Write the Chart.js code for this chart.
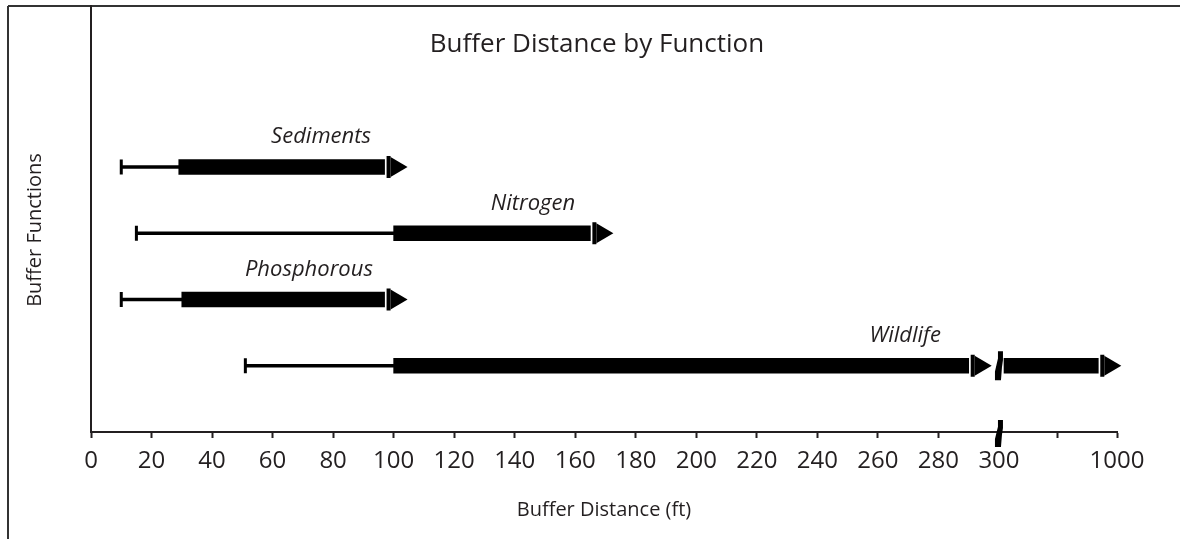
<!DOCTYPE html>
<html><head><meta charset="utf-8">
<script src="https://cdn.jsdelivr.net/npm/chart.js@4.4.1/dist/chart.umd.min.js"></script>
<style>html,body{margin:0;padding:0;background:#fff;}canvas{display:block;}</style>
</head><body>
<canvas id="c" width="1180" height="539"></canvas>
<script>
// ---- data (feet) ----
const categories = ['Sediments', 'Nitrogen', 'Phosphorous', 'Wildlife'];
const minDistance = [10, 15, 10, 51];
const typicalStart = [29, 100, 30, 100];
const typicalEnd = [97, 165, 97, 290];
const extendedStart = [null, null, null, 330];
const extendedEnd = [null, null, null, 889];
const labelAt = [76, 146, 72, 269];
const breakAt = 300;
const axisMax = 1000;
const xTickValues = [0, 20, 40, 60, 80, 100, 120, 140, 160, 180, 200, 220, 240, 260, 280, 300, 650, 1000];
const xTickLabels = ['0', '20', '40', '60', '80', '100', '120', '140', '160', '180', '200', '220', '240', '260', '280', '300', '', '1000'];
const titleText = 'Buffer Distance by Function';
const xTitle = 'Buffer Distance (ft)';
const yTitle = 'Buffer Functions';

// broken axis: 0-300 linear, 300-1000 compressed
const toAxis = v => v <= breakAt ? v : breakAt + (v - breakAt) * 39 / 700;

const INK = '#231f20';
const FONT = "'Open Sans', sans-serif";

const thinData = categories.map((c, i) => ({ x: [toAxis(minDistance[i]), toAxis(typicalStart[i])], y: i + 1 }));
const thickData = categories.map((c, i) => ({ x: [toAxis(typicalStart[i]), toAxis(typicalEnd[i])], y: i + 1 }));
categories.forEach((c, i) => {
  if (extendedStart[i] != null) thickData.push({ x: [toAxis(extendedStart[i]), toAxis(extendedEnd[i])], y: i + 1 });
});

function drawArrow(ctx, x, y) {
  ctx.fillRect(x + 2, y - 11, 4, 22);
  ctx.beginPath();
  ctx.moveTo(x + 6, y - 10);
  ctx.lineTo(x + 23, y);
  ctx.lineTo(x + 6, y + 10);
  ctx.closePath();
  ctx.fill();
}
function drawBreak(ctx, cx, cy, h) {
  const t = cy - h / 2, b = cy + h / 2;
  ctx.beginPath();
  ctx.moveTo(cx - 1, t);
  ctx.lineTo(cx + 4, t);
  ctx.lineTo(cx + 4, t + h * 0.3);
  ctx.lineTo(cx + 3, t + h * 0.55);
  ctx.lineTo(cx + 2, b);
  ctx.lineTo(cx - 4, b);
  ctx.lineTo(cx - 4, b - h * 0.3);
  ctx.lineTo(cx - 2, t + h * 0.4);
  ctx.lineTo(cx - 1, t + h * 0.25);
  ctx.closePath();
  ctx.fill();
}

const decor = {
  id: 'decor',
  beforeDraw(chart) {
    const ctx = chart.ctx;
    ctx.save();
    ctx.fillStyle = '#fff';
    ctx.fillRect(0, 0, chart.width, chart.height);
    ctx.strokeStyle = '#333';
    ctx.lineWidth = 2;
    ctx.beginPath();
    ctx.moveTo(8, 6); ctx.lineTo(chart.width, 6);
    ctx.moveTo(8, 6); ctx.lineTo(8, chart.height);
    ctx.stroke();
    ctx.restore();
  },
  afterDraw(chart) {
    const ctx = chart.ctx;
    const xs = chart.scales.x, ys = chart.scales.y;
    ctx.save();
    ctx.fillStyle = '#000';
    categories.forEach((c, i) => {
      const y = ys.getPixelForValue(i + 1);
      const wx = xs.getPixelForValue(toAxis(minDistance[i]));
      ctx.fillRect(wx - 1.5, y - 7.5, 3, 15);
      drawArrow(ctx, xs.getPixelForValue(toAxis(typicalEnd[i])), y);
      if (extendedEnd[i] != null) {
        drawArrow(ctx, xs.getPixelForValue(toAxis(extendedEnd[i])), y);
        drawBreak(ctx, xs.getPixelForValue(breakAt), y, 29);
      }
    });
    // axis break
    drawBreak(ctx, xs.getPixelForValue(breakAt), chart.chartArea.bottom + 1.5, 27);

    // series labels
    ctx.fillStyle = INK;
    ctx.textAlign = 'center';
    ctx.textBaseline = 'middle';
    ctx.font = "italic 22px " + FONT;
    categories.forEach((c, i) => {
      ctx.fillText(c, xs.getPixelForValue(toAxis(labelAt[i])), ys.getPixelForValue(i + 1) - 30);
    });
    // title
    ctx.font = "26px " + FONT;
    ctx.fillText(titleText, 597, 45);
    // y title
    ctx.font = "20px " + FONT;
    ctx.translate(35, 230);
    ctx.rotate(-Math.PI / 2);
    ctx.fillText(yTitle, 0, 0);
    ctx.restore();
  }
};

new Chart(document.getElementById('c'), {
  type: 'bar',
  data: {
    datasets: [
      { label: 'range', data: thinData, backgroundColor: '#000', barThickness: 3, grouped: false, borderSkipped: false },
      { label: 'typical', data: thickData, backgroundColor: '#000', barThickness: 15, grouped: false, borderSkipped: false }
    ]
  },
  options: {
    indexAxis: 'y',
    responsive: false,
    animation: false,
    layout: { padding: { left: 0, top: 6, right: 63, bottom: 0 } },
    plugins: { legend: { display: false }, tooltip: { enabled: false }, title: { display: false } },
    scales: {
      x: {
        type: 'linear', min: 0, max: toAxis(axisMax),
        afterBuildTicks: s => { s.ticks = xTickValues.map(v => ({ value: toAxis(v) })); },
        ticks: { callback: (v, i) => xTickLabels[i], font: { family: FONT, size: 24 }, color: INK, padding: 9, maxRotation: 0, autoSkip: false },
        grid: { display: true, drawOnChartArea: false, drawTicks: true, tickLength: 6, tickWidth: 2, tickColor: INK },
        border: { display: true, color: INK, width: 2 },
        title: { display: true, text: xTitle, font: { family: FONT, size: 20 }, color: INK, padding: { top: 0, bottom: 17 } },
        afterFit: s => { s.height = 107; }
      },
      y: {
        type: 'linear', min: -1.43, max: 5, reverse: true, offset: false,
        ticks: { display: false },
        grid: { display: false },
        border: { display: true, color: INK, width: 2 },
        afterFit: s => { s.width = 91; }
      }
    }
  },
  plugins: [decor]
});
</script>
</body></html>
